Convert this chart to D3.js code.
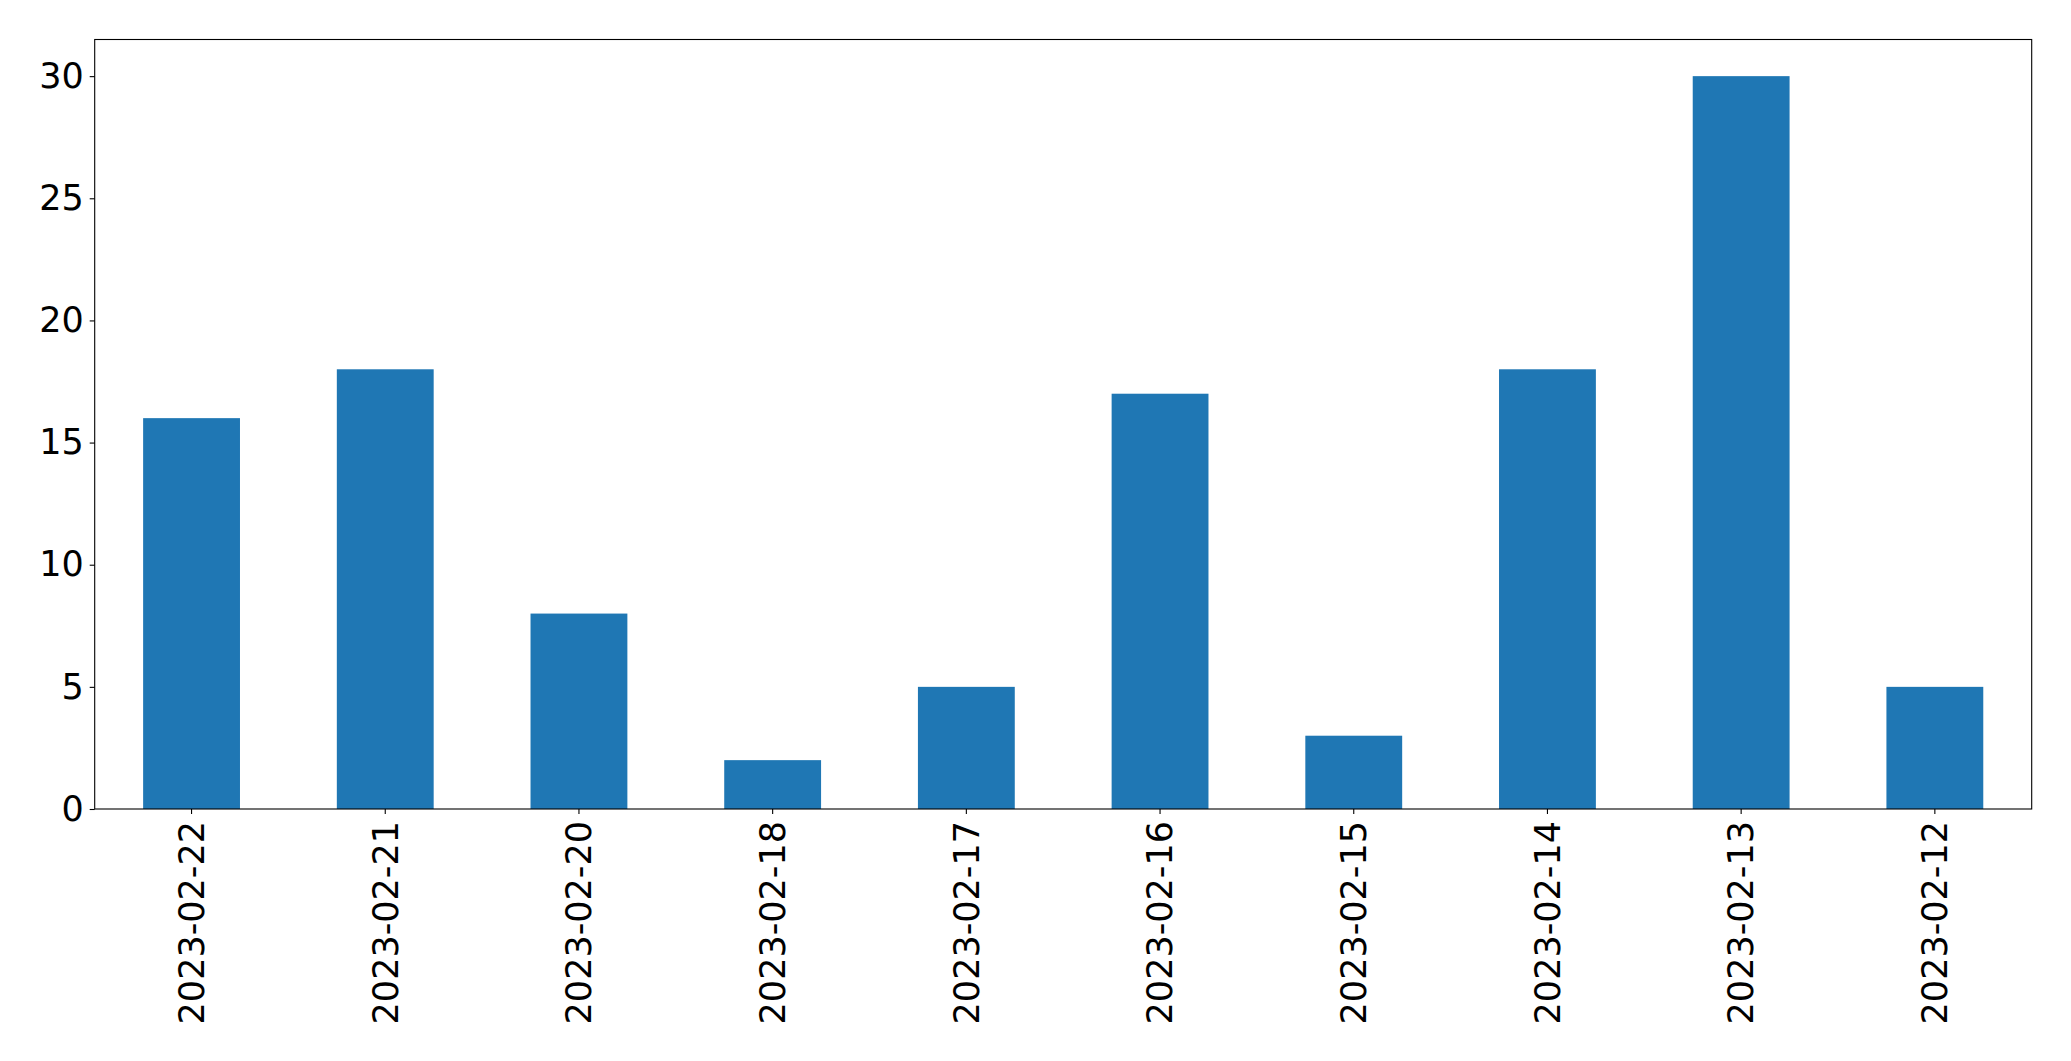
<!DOCTYPE html>
<html><head><meta charset="utf-8">
<script src="https://cdn.jsdelivr.net/npm/d3@7"></script>
<style>body{margin:0;background:#fff}svg{display:block}text{font-family:"DejaVu Sans",sans-serif}</style>
</head><body>
<svg id="c" width="2071" height="1061"></svg>
<script>
const categories = ["2023-02-22","2023-02-21","2023-02-20","2023-02-18","2023-02-17","2023-02-16","2023-02-15","2023-02-14","2023-02-13","2023-02-12"];
const values = [16,18,8,2,5,17,3,18,30,5];
const yTicks = [0,5,10,15,20,25,30];

const W=2071,H=1061, m={l:94.7,r:2071-2031.7,t:39.5,b:1061-809};
const svg=d3.select("#c");
const x=d3.scaleBand().domain(categories).range([m.l,W-m.r]).paddingInner(0.5).paddingOuter(0.25);
const y=d3.scaleLinear().domain([0,31.5]).range([H-m.b,m.t]);

svg.append("g").selectAll("rect").data(values).join("rect")
  .attr("x",(d,i)=>x(categories[i])).attr("width",x.bandwidth())
  .attr("y",d=>y(d)).attr("height",d=>y(0)-y(d)).attr("fill","#1f77b4");

const fs=35;
const gy=svg.append("g").attr("transform",`translate(${m.l},0)`)
  .call(d3.axisLeft(y).tickValues(yTicks).tickSize(5).tickPadding(6));
gy.select(".domain").remove();
gy.selectAll("text").attr("font-size",fs).attr("fill","#000").style("font-family","DejaVu Sans");
gy.selectAll("line").attr("stroke","#000").attr("stroke-width",1.1);

const gx=svg.append("g").attr("transform",`translate(0,${H-m.b})`)
  .call(d3.axisBottom(x).tickSize(5).tickPadding(0));
gx.select(".domain").remove();
gx.selectAll("line").attr("stroke","#000").attr("stroke-width",1.1);
gx.selectAll("text").attr("font-size",fs).attr("fill","#000").style("font-family","DejaVu Sans")
  .attr("text-anchor","end").attr("dy","0.35em")
  .attr("transform","translate(0,12) rotate(-90)").attr("x",0).attr("y",0);

svg.append("rect").attr("x",m.l).attr("y",m.t).attr("width",W-m.r-m.l).attr("height",H-m.b-m.t)
  .attr("fill","none").attr("stroke","#000").attr("stroke-width",1.1);
</script>
</body></html>
